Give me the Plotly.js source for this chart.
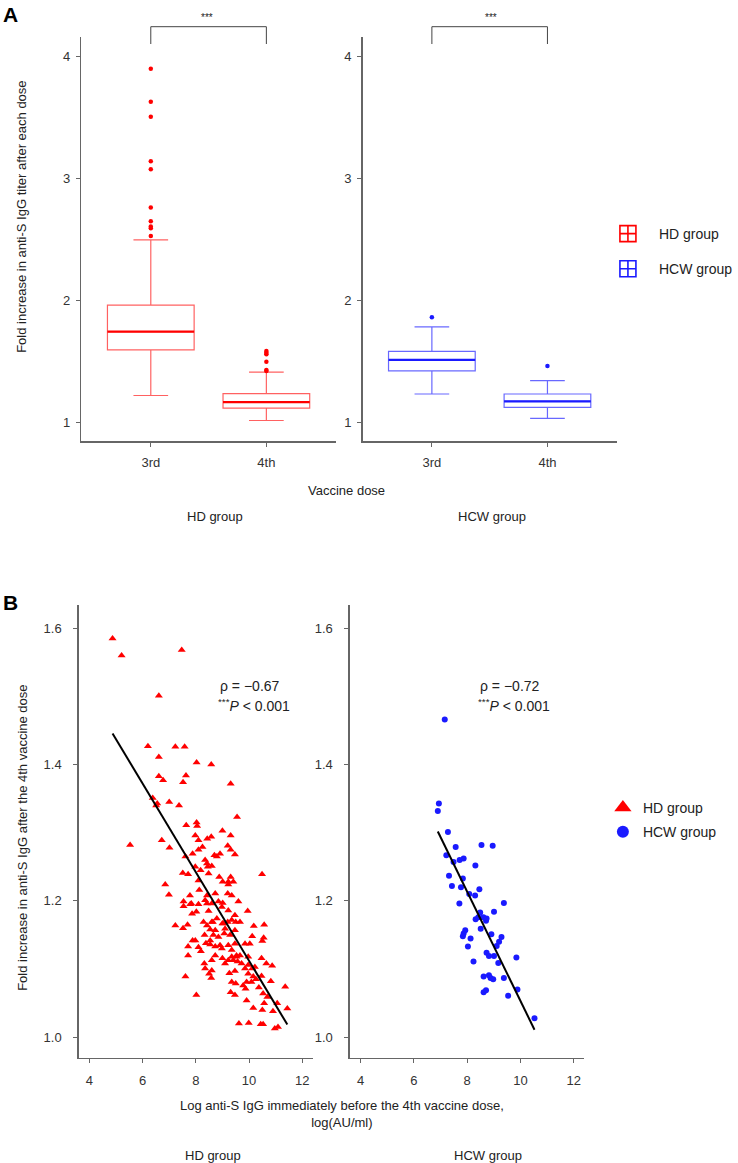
<!DOCTYPE html>
<html><head><meta charset="utf-8">
<script src="https://cdn.plot.ly/plotly-3.0.1.min.js"></script>
<style>html,body{margin:0;padding:0;background:#fff}</style>
</head><body>
<div id="chart" style="width:738px;height:1163px"></div>
<script>
// ---------- Panel A data ----------
const doses = ['3rd', '4th'];
const hdQ1 = [1.592, 1.115];
const hdMedian = [1.742, 1.164];
const hdQ3 = [1.958, 1.234];
const hdLow = [1.218, 1.013];
const hdHigh = [2.493, 1.41];
const hdOut3rd = [3.896, 3.626, 3.503, 3.138, 3.072, 2.758, 2.646, 2.602, 2.589, 2.526];
const hdOut4th = [1.582, 1.568, 1.555, 1.494, 1.426, 1.418];
const hcwQ1 = [1.42, 1.12];
const hcwMedian = [1.51, 1.17];
const hcwQ3 = [1.58, 1.23];
const hcwLow = [1.23, 1.03];
const hcwHigh = [1.78, 1.34];
const hcwOut3rd = [1.86];
const hcwOut4th = [1.46];

// ---------- Panel B data ----------
const hdX = [4.87,5.21,7.47,6.61,6.20,7.23,7.58,6.61,8.03,8.58,
  6.61,6.77,7.63,7.52,9.31,6.38,6.51,7.00,7.37,9.55,
  7.64,8.03,8.05,5.53,6.72,7.01,9.00,9.31,7.98,8.10,
  8.25,8.43,8.58,9.20,9.31,9.47,7.88,8.10,8.35,8.70,
  8.79,8.91,7.61,7.98,8.18,8.42,8.48,7.51,7.71,8.10,
  8.88,9.31,9.01,9.22,9.41,10.49,6.85,6.99,7.78,8.13,
  8.42,8.73,9.20,9.35,7.54,7.54,7.83,8.10,8.35,8.60,
  8.85,8.98,9.60,8.02,8.48,9.22,9.95,9.47,7.23,7.52,
  7.69,8.29,8.42,8.60,8.79,9.00,9.20,9.35,9.50,9.66,
  8.54,8.73,9.10,9.47,10.18,10.57,7.88,7.98,8.66,8.85,
  9.07,9.29,9.85,10.03,10.12,10.55,10.50,7.71,8.10,8.54,
  8.91,9.22,9.47,8.19,7.71,8.73,9.00,9.35,9.53,9.66,
  10.47,8.60,9.22,9.41,9.57,8.32,9.10,8.35,8.60,9.47,
  9.97,10.12,10.22,10.65,10.87,8.50,8.58,7.61,9.26,9.97,
  10.16,10.47,9.91,10.09,10.26,9.35,9.50,9.78,10.82,9.87,
  10.37,11.36,9.31,9.47,8.02,10.53,10.69,9.91,10.57,11.06,
  10.16,10.50,10.90,11.44,9.62,9.99,10.44,10.53,10.97,11.09,
  8.33,8.38,8.54,8.73,8.98,9.35,9.53,8.45,8.60,9.22,
  7.79,8.42,9.01,8.64,9.04,7.86,9.97,9.72,9.85,6.55];
const hdY = [1.585,1.560,1.568,1.501,1.427,1.426,1.426,1.411,1.403,1.400,
  1.383,1.377,1.384,1.374,1.372,1.351,1.340,1.345,1.340,1.323,
  1.311,1.315,1.310,1.282,1.289,1.278,1.303,1.296,1.296,1.289,
  1.279,1.291,1.294,1.281,1.275,1.268,1.269,1.275,1.260,1.267,
  1.265,1.269,1.265,1.250,1.245,1.255,1.240,1.241,1.239,1.230,
  1.235,1.235,1.228,1.228,1.228,1.239,1.224,1.209,1.208,1.216,
  1.208,1.211,1.211,1.208,1.199,1.192,1.196,1.195,1.201,1.196,
  1.199,1.191,1.199,1.184,1.185,1.186,1.185,1.179,1.164,1.160,
  1.165,1.169,1.164,1.169,1.174,1.167,1.169,1.172,1.169,1.169,
  1.158,1.157,1.159,1.157,1.163,1.165,1.142,1.142,1.150,1.147,
  1.152,1.150,1.137,1.137,1.148,1.146,1.141,1.133,1.132,1.136,
  1.135,1.135,1.137,1.126,1.120,1.120,1.116,1.118,1.118,1.120,
  1.116,1.113,1.113,1.113,1.111,1.108,1.108,1.101,1.098,1.097,
  1.106,1.101,1.103,1.108,1.105,1.093,1.087,1.089,1.094,1.093,
  1.089,1.090,1.081,1.081,1.085,1.081,1.079,1.076,1.082,1.071,
  1.073,1.074,1.066,1.062,1.062,1.064,1.059,1.054,1.050,1.050,
  1.043,1.040,1.038,1.042,1.020,1.021,1.019,1.019,1.013,1.015,
  1.150,1.138,1.142,1.133,1.130,1.128,1.120,1.250,1.251,1.224,
  1.195,1.196,1.197,1.169,1.167,1.181,1.118,1.108,1.101,1.343];
const hcwX = [7.16,6.94,6.90,7.28,7.57,8.54,8.96,7.22,7.49,7.72,
  7.87,8.31,7.32,7.84,7.43,7.77,8.46,8.08,8.30,7.71,
  9.38,8.49,9.01,8.32,8.42,8.61,8.71,8.73,8.51,8.91,
  7.93,7.87,7.84,8.13,9.29,9.20,8.03,9.11,8.73,8.82,
  9.01,9.85,8.24,9.17,8.62,8.82,8.88,8.98,9.38,9.89,
  8.71,8.62,9.54,10.53];
const hcwY = [1.466,1.343,1.332,1.301,1.279,1.282,1.281,1.267,1.257,1.260,
  1.262,1.252,1.237,1.233,1.222,1.220,1.217,1.210,1.208,1.196,
  1.197,1.183,1.184,1.173,1.176,1.176,1.171,1.174,1.159,1.151,
  1.157,1.152,1.148,1.145,1.147,1.140,1.133,1.134,1.124,1.119,
  1.119,1.117,1.111,1.109,1.089,1.091,1.087,1.085,1.087,1.070,
  1.069,1.066,1.061,1.028];
// regression lines [intercept, slope] as drawn
const hdFit = [1.762, -0.06498];
const hcwFit = [1.8545, -0.0801];
const groups = ['HD group', 'HCW group'];
const rhoText = ['ρ = −0.67', 'ρ = −0.72'];
const pText = '<sup>***</sup><i>P</i> < 0.001';

// ---------- helpers ----------
const W = 738, H = 1163;
const px = v => v / W;
const py = v => 1 - v / H;
const FONT = 'Liberation Sans, Arial, Helvetica, sans-serif';
const RED = '#ff0000', BLUE = '#1a1aff';
const RED_L = 'rgba(255,0,0,0.62)', BLUE_L = 'rgba(40,40,255,0.7)';

function rep(v, n) { return Array(n).fill(v); }

const traces = [];
function boxSet(xa, ya, q1, med, q3, lo, hi, out3, out4, colL, col, name, lg) {
  traces.push({type: 'box', xaxis: xa, yaxis: ya, x: doses, q1: q1, median: med, q3: q3,
    lowerfence: lo, upperfence: hi, width: 0.75, whiskerwidth: 0.4, boxpoints: false,
    line: {color: colL, width: 1.2}, fillcolor: 'rgba(0,0,0,0)', name: name,
    showlegend: false, hoverinfo: 'skip'});
  traces.push({type: 'box', xaxis: xa, yaxis: ya, x: doses, q1: med, median: med, q3: med,
    lowerfence: med, upperfence: med, width: 0.75, whiskerwidth: 0, boxpoints: false,
    line: {color: col, width: 2.2}, fillcolor: 'rgba(0,0,0,0)', showlegend: false, hoverinfo: 'skip'});
  traces.push({type: 'scatter', mode: 'markers', xaxis: xa, yaxis: ya,
    x: rep(doses[0], out3.length).concat(rep(doses[1], out4.length)),
    y: out3.concat(out4), marker: {color: col, size: 4.5}, showlegend: false, hoverinfo: 'skip'});
  // legend key (crossbar-like symbol)
  traces.push({type: 'scatter', mode: 'markers', xaxis: xa, yaxis: ya, x: [null], y: [null],
    marker: {color: col, size: 17, symbol: 'square-cross-open', line: {width: 1.6, color: col}},
    name: name, legend: 'legend', legendgroup: lg, showlegend: true});
}
boxSet('x', 'y', hdQ1, hdMedian, hdQ3, hdLow, hdHigh, hdOut3rd, hdOut4th, RED_L, RED, groups[0], 'a1');
boxSet('x2', 'y2', hcwQ1, hcwMedian, hcwQ3, hcwLow, hcwHigh, hcwOut3rd, hcwOut4th, BLUE_L, BLUE, groups[1], 'a2');

function scatterSet(xa, ya, xs, ys, fit, col, sym, size) {
  traces.push({type: 'scatter', mode: 'markers', xaxis: xa, yaxis: ya, x: xs, y: ys,
    marker: {color: col, size: size, symbol: sym, line: {width: 0}}, showlegend: false, hoverinfo: 'skip'});
  const x0 = Math.min(...xs), x1 = Math.max(...xs);
  traces.push({type: 'scatter', mode: 'lines', xaxis: xa, yaxis: ya, x: [x0, x1],
    y: [fit[0] + fit[1] * x0, fit[0] + fit[1] * x1], line: {color: '#000', width: 2},
    showlegend: false, hoverinfo: 'skip'});
}
scatterSet('x3', 'y3', hdX, hdY, hdFit, RED, 'triangle-up', 7);
scatterSet('x4', 'y4', hcwX, hcwY, hcwFit, BLUE, 'circle', 6);
// legend entries for panel B
traces.push({type: 'scatter', mode: 'markers', x: [null], y: [null], xaxis: 'x3', yaxis: 'y3',
  marker: {color: RED, size: 15, symbol: 'triangle-up'}, name: groups[0], legend: 'legend2', legendgroup: 'b1'});
traces.push({type: 'scatter', mode: 'markers', x: [null], y: [null], xaxis: 'x3', yaxis: 'y3',
  marker: {color: BLUE, size: 12, symbol: 'circle'}, name: groups[1], legend: 'legend2', legendgroup: 'b2'});

const axBase = {showline: true, linecolor: '#666', linewidth: 1.5, ticks: 'outside', ticklen: 4,
  tickwidth: 1, tickcolor: '#666', showgrid: false, zeroline: false, mirror: false,
  tickfont: {family: FONT, size: 13, color: '#333'}, fixedrange: true};
function ax(extra) { return Object.assign({}, axBase, extra); }

const yA = [py(441), py(37)], yB = [py(1057.7), py(605)];
const layout = {
  width: W, height: H, margin: {l: 0, r: 0, t: 0, b: 0}, paper_bgcolor: '#fff', plot_bgcolor: '#fff',
  font: {family: FONT, color: '#222'}, boxmode: 'overlay',
  xaxis: ax({domain: [px(82), px(338)], anchor: 'y', type: 'category', range: [-0.6, 1.6], ticklabelstandoff: 5}),
  yaxis: ax({domain: yA, anchor: 'x', range: [0.845, 4.156], tickvals: [1, 2, 3, 4], ticklabelstandoff: 3}),
  xaxis2: ax({domain: [px(365), px(621)], anchor: 'y2', type: 'category', range: [-0.6, 1.6], ticklabelstandoff: 5}),
  yaxis2: ax({domain: yA, anchor: 'x2', range: [0.845, 4.156], tickvals: [1, 2, 3, 4], ticklabelstandoff: 3}),
  xaxis3: ax({domain: [px(79.3), px(315)], anchor: 'y3', range: [3.6, 12.4], tickvals: [4, 6, 8, 10, 12], ticklabelstandoff: 6}),
  yaxis3: ax({domain: yB, anchor: 'x3', range: [0.970, 1.634], tickvals: [1.0, 1.2, 1.4, 1.6], tickformat: '.1f', ticklabelstandoff: 9}),
  xaxis4: ax({domain: [px(352.3), px(588.3)], anchor: 'y4', range: [3.6, 12.4], tickvals: [4, 6, 8, 10, 12], ticklabelstandoff: 6}),
  yaxis4: ax({domain: yB, anchor: 'x4', range: [0.970, 1.634], tickvals: [1.0, 1.2, 1.4, 1.6], tickformat: '.1f', ticklabelstandoff: 9}),
  legend: {x: px(601), xanchor: 'left', y: py(218), yanchor: 'top', itemwidth: 52,
    font: {family: FONT, size: 14, color: '#222'}, tracegroupgap: 14, traceorder: 'grouped', bgcolor: 'rgba(0,0,0,0)'},
  legend2: {x: px(607), xanchor: 'left', y: py(792), yanchor: 'top', itemwidth: 30,
    font: {family: FONT, size: 14, color: '#222'}, tracegroupgap: 3, traceorder: 'grouped', bgcolor: 'rgba(0,0,0,0)'},
  shapes: [], annotations: []
};
// significance brackets (panel A)
['x', 'x2'].forEach(xr => {
  const c = {color: '#444', width: 1};
  layout.shapes.push({type: 'line', xref: xr, yref: 'paper', x0: doses[0], x1: doses[1], y0: py(26.7), y1: py(26.7), line: c});
  layout.shapes.push({type: 'line', xref: xr, yref: 'paper', x0: doses[0], x1: doses[0], y0: py(26.7), y1: py(44), line: c});
  layout.shapes.push({type: 'line', xref: xr, yref: 'paper', x0: doses[1], x1: doses[1], y0: py(26.7), y1: py(44), line: c});
});
function ann(o) { layout.annotations.push(Object.assign({xref: 'paper', yref: 'paper', showarrow: false,
  font: {family: FONT, size: 13, color: '#222'}}, o)); }
ann({text: '<b>A</b>', x: px(1), y: py(14), xanchor: 'left', yanchor: 'middle', font: {family: FONT, size: 21, color: '#000'}});
ann({text: '<b>B</b>', x: px(1), y: py(602), xanchor: 'left', yanchor: 'middle', font: {family: FONT, size: 21, color: '#000'}});
ann({text: '***', x: px(208), y: py(17), xanchor: 'center', yanchor: 'middle', font: {family: FONT, size: 10, color: '#222'}});
ann({text: '***', x: px(494), y: py(17), xanchor: 'center', yanchor: 'middle', font: {family: FONT, size: 10, color: '#222'}});
ann({text: 'Fold increase in anti-S IgG titer after each dose', x: px(22), y: py(217), textangle: -90, xanchor: 'center', yanchor: 'middle'});
ann({text: 'Fold increase in anti-S IgG after the 4th vaccine dose', x: px(22), y: py(838), textangle: -90, xanchor: 'center', yanchor: 'middle'});
ann({text: 'Vaccine dose', x: px(349), y: py(490), xanchor: 'center', yanchor: 'middle'});
ann({text: groups[0], x: px(216), y: py(517), xanchor: 'center', yanchor: 'middle'});
ann({text: groups[1], x: px(495), y: py(517), xanchor: 'center', yanchor: 'middle'});
ann({text: 'Log anti-S IgG immediately before the 4th vaccine dose,<br>log(AU/ml)', x: px(344), y: py(1114), xanchor: 'center', yanchor: 'middle'});
ann({text: groups[0], x: px(214), y: py(1155), xanchor: 'center', yanchor: 'middle'});
ann({text: groups[1], x: px(491), y: py(1155), xanchor: 'center', yanchor: 'middle'});
ann({text: rhoText[0], x: px(219), y: py(686), xanchor: 'left', yanchor: 'middle', font: {family: FONT, size: 14, color: '#222'}});
ann({text: pText, x: px(217), y: py(705), xanchor: 'left', yanchor: 'middle', font: {family: FONT, size: 14, color: '#222'}});
ann({text: rhoText[1], x: px(481), y: py(686), xanchor: 'left', yanchor: 'middle', font: {family: FONT, size: 14, color: '#222'}});
ann({text: pText, x: px(479), y: py(705), xanchor: 'left', yanchor: 'middle', font: {family: FONT, size: 14, color: '#222'}});

Plotly.newPlot('chart', traces, layout, {staticPlot: true, displayModeBar: false});
</script></body></html>
